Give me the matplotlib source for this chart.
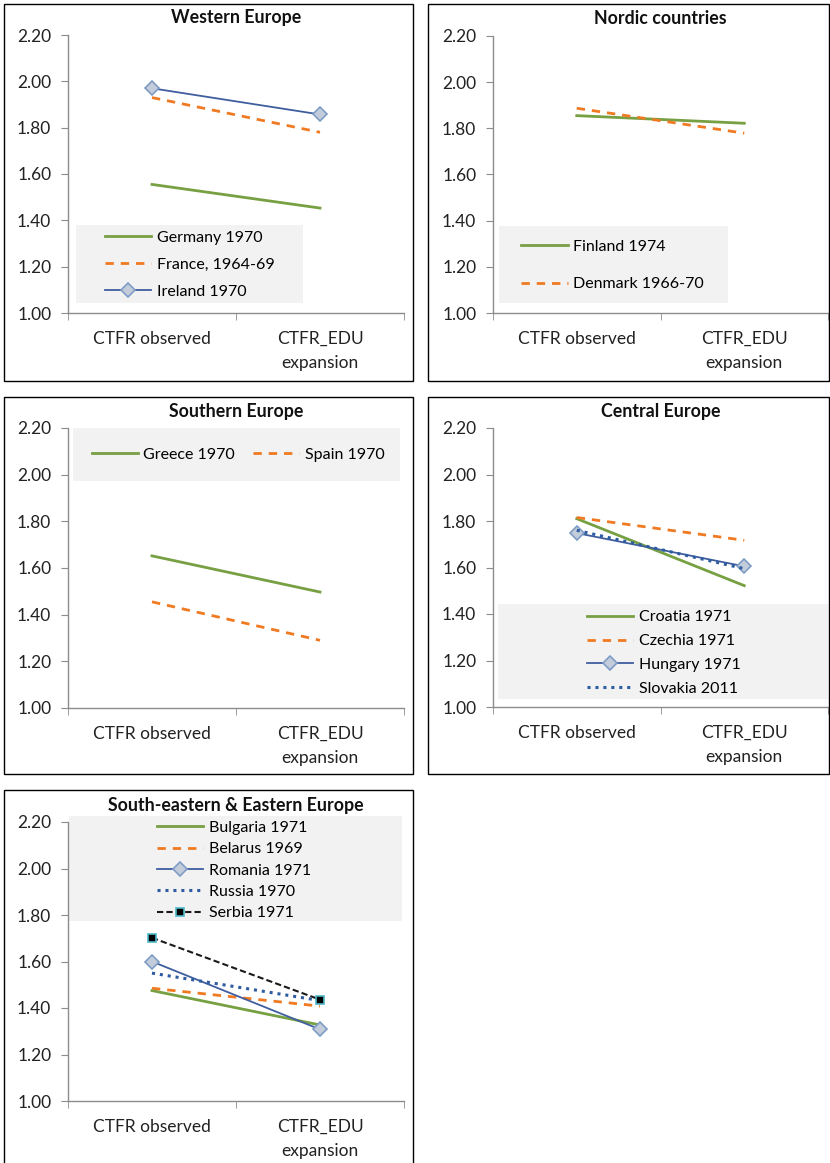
import matplotlib
matplotlib.use("Agg")
import matplotlib.pyplot as plt
from matplotlib.patches import Rectangle

plt.rcParams['font.family'] = ['Lato', 'DejaVu Sans']

W, H = 830, 1163

categories = ["CTFR observed", "CTFR_EDU\nexpansion"]

# Western Europe
germany = [1.555, 1.453]
france = [1.930, 1.780]
ireland = [1.970, 1.857]
# Nordic countries
finland = [1.855, 1.822]
denmark = [1.887, 1.779]
# Southern Europe
greece = [1.652, 1.497]
spain = [1.455, 1.290]
# Central Europe
croatia = [1.810, 1.522]
czechia = [1.815, 1.717]
hungary = [1.748, 1.605]
slovakia = [1.760, 1.595]
# South-eastern & Eastern Europe
bulgaria = [1.475, 1.327]
belarus = [1.485, 1.408]
romania = [1.600, 1.308]
russia = [1.550, 1.432]
serbia = [1.702, 1.436]

GREEN = '#77A043'
ORANGE = '#F07A22'
BLUE = '#3F5E9E'
DOTBLUE = '#2E5CA0'
LEGBG = '#F2F2F2'
AXCOL = '#8C8C8C'
LFS = 11.5

fig = plt.figure(figsize=(W / 100, H / 100), dpi=100)


def px_rect(x0, y0, x1, y1):
    return [x0 / W, 1 - y1 / H, (x1 - x0) / W, (y1 - y0) / H]


def border(x0, y0, x1, y1):
    fig.patches.append(Rectangle((x0 / W, 1 - y1 / H), (x1 - x0) / W, (y1 - y0) / H,
                                 transform=fig.transFigure, fill=False,
                                 edgecolor='black', linewidth=1.0))


def make_ax(x0, y0, x1, y1, title, ty):
    ax = fig.add_axes(px_rect(x0, y0, x1, y1))
    ax.set_ylim(1.0, 2.2)
    ax.set_xlim(-0.5, 1.5)
    ax.set_yticks([1.0, 1.2, 1.4, 1.6, 1.8, 2.0, 2.2])
    ax.set_yticklabels(['%.2f' % v for v in [1.0, 1.2, 1.4, 1.6, 1.8, 2.0, 2.2]])
    ax.set_xticks([0, 1])
    ax.set_xticklabels(categories, linespacing=1.6)
    ax.set_xticks([-0.5, 0.5, 1.5], minor=True)
    ax.tick_params(axis='x', which='major', length=0, pad=13, labelsize=12.5, colors='#222222')
    ax.tick_params(axis='x', which='minor', length=5, color=AXCOL, direction='out')
    ax.tick_params(axis='y', length=5, color=AXCOL, direction='out', pad=7,
                   labelsize=12.5, labelcolor='#222222')
    for s in ['top', 'right']:
        ax.spines[s].set_visible(False)
    for s in ['left', 'bottom']:
        ax.spines[s].set_color(AXCOL)
        ax.spines[s].set_linewidth(1.0)
    fig.text((x0 + x1) / 2 / W, 1 - ty / H, title, ha='center', va='center',
             fontsize=12.8, fontweight='bold', color='#111111')
    return ax


def leg_box(ax, x0, y0, x1, y1):
    ax.add_patch(Rectangle((x0, y0), x1 - x0, y1 - y0, transform=ax.transAxes,
                           facecolor=LEGBG, edgecolor='none', zorder=0.5, clip_on=False))


def legend(ax, anchor, spacing, **kw):
    ax.legend(loc='upper left', bbox_to_anchor=anchor, frameon=False, fontsize=LFS,
              handlelength=2.9, handletextpad=0.35, labelspacing=spacing,
              borderpad=0, borderaxespad=0, **kw)


x = [0, 1]
diamond = dict(marker='D', markersize=7.5, markerfacecolor='#C3CCDA', markeredgecolor='#7F9CC6',
               markeredgewidth=1.2)

# Panel 1: Western Europe
border(4, 4, 413, 381)
ax1 = make_ax(68, 35, 404, 313, "Western Europe", 18)
leg_box(ax1, 0.024, 0.036, 0.70, 0.317)
ax1.plot(x, germany, color=GREEN, lw=2.0, label="Germany 1970")
ax1.plot(x, france, color=ORANGE, lw=2.0, ls=(0, (3, 2.5)), label="France, 1964-69")
ax1.plot(x, ireland, color=BLUE, lw=1.3, label="Ireland 1970", **diamond)
legend(ax1, (0.11, 0.297), 0.8)

# Panel 2: Nordic countries
border(428, 4, 829, 381)
ax2 = make_ax(493, 36, 828, 313, "Nordic countries", 19)
leg_box(ax2, 0.018, 0.036, 0.70, 0.314)
ax2.plot(x, finland, color=GREEN, lw=2.0, label="Finland 1974")
ax2.plot(x, denmark, color=ORANGE, lw=2.0, ls=(0, (3, 2.5)), label="Denmark 1966-70")
legend(ax2, (0.085, 0.265), 1.47)

# Panel 3: Southern Europe
border(4, 397, 413, 774)
ax3 = make_ax(68, 428, 404, 708, "Southern Europe", 411)
leg_box(ax3, 0.015, 0.81, 0.988, 1.0)
ax3.plot(x, greece, color=GREEN, lw=2.0, label="Greece 1970")
ax3.plot(x, spain, color=ORANGE, lw=2.0, ls=(0, (3, 2.5)), label="Spain 1970")
legend(ax3, (0.07, 0.93), 0.5, ncol=2, columnspacing=1.1)

# Panel 4: Central Europe
border(428, 397, 829, 774)
ax4 = make_ax(493, 428, 828, 707, "Central Europe", 411)
leg_box(ax4, 0.015, 0.029, 1.0, 0.369)
ax4.plot(x, croatia, color=GREEN, lw=2.0, label="Croatia 1971")
ax4.plot(x, czechia, color=ORANGE, lw=2.0, ls=(0, (3, 2.5)), label="Czechia 1971")
ax4.plot(x, hungary, color=BLUE, lw=1.3, label="Hungary 1971", **diamond)
ax4.plot(x, slovakia, color=DOTBLUE, lw=2.2, ls=(0, (1, 1.6)), label="Slovakia 2011")
legend(ax4, (0.28, 0.347), 0.6)

# Panel 5: South-eastern & Eastern Europe
border(4, 790, 413, 1175)
ax5 = make_ax(68, 822, 404, 1101, "South-eastern & Eastern Europe", 806)
leg_box(ax5, 0.003, 0.645, 0.994, 1.022)
ax5.plot(x, bulgaria, color=GREEN, lw=2.0, label="Bulgaria 1971")
ax5.plot(x, belarus, color=ORANGE, lw=2.0, ls=(0, (3, 2.5)), label="Belarus 1969")
ax5.plot(x, romania, color=BLUE, lw=1.3, label="Romania 1971", **diamond)
ax5.plot(x, russia, color=DOTBLUE, lw=2.2, ls=(0, (1, 1.6)), label="Russia 1970")
ax5.plot(x, serbia, color='#1A1A1A', lw=1.5, ls=(0, (3, 1.5)), marker='s', markersize=6,
         markerfacecolor='black', markeredgecolor='#4FB8C8', markeredgewidth=1.2,
         label="Serbia 1971")
legend(ax5, (0.265, 1.005), 0.45)

fig.savefig("out.png", dpi=100, facecolor='white')
